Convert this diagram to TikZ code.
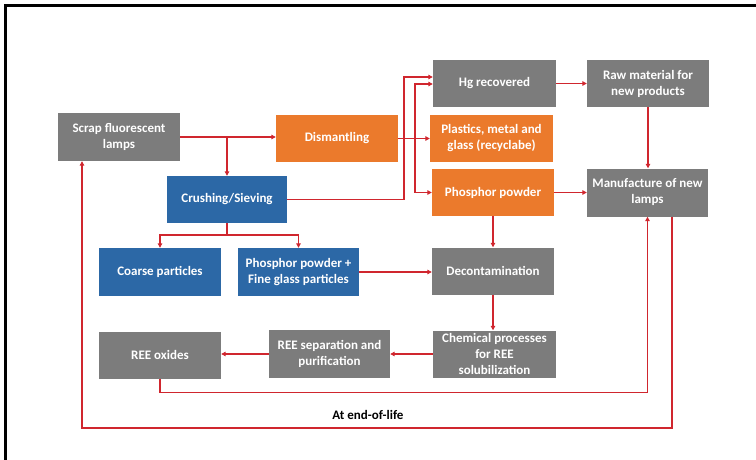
\documentclass[tikz,border=0pt]{standalone}
\usepackage{fontspec}
\setmainfont{Carlito}
\usetikzlibrary{arrows.meta,calc}
\definecolor{bgrey}{HTML}{7C7C7C}
\definecolor{borange}{HTML}{EB7A2C}
\definecolor{bblue}{HTML}{2C68A6}
\definecolor{lred}{HTML}{D0262E}
\tikzset{
  box/.style={rectangle, text=white, align=center, inner sep=1pt,
    font=\bfseries\fontsize{13}{16}\selectfont},
  greybox/.style={box, fill=bgrey},
  orangebox/.style={box, fill=borange},
  bluebox/.style={box, fill=bblue},
  link/.style={draw=lred, line width=1.4pt},
  arr/.style={link, -{Triangle[length=4.5pt,width=4.5pt]}},
}
\begin{document}
\begin{tikzpicture}[x=1pt,y=-1pt]
\useasboundingbox (0,0) rectangle (756,460);
\draw[line width=3pt] (756,6) -- (5,6) -- (5,460);

\node[greybox, minimum width=122pt, minimum height=48pt] (scrap) at (119,137) {Scrap fluorescent\\lamps};
\node[orangebox, minimum width=122pt, minimum height=47pt] (dism) at (337,138.5) {Dismantling};
\node[bluebox, minimum width=120pt, minimum height=47pt] (crush) at (227,199.5) {Crushing/Sieving};
\node[greybox, minimum width=123pt, minimum height=47pt] (hg) at (494.5,83.5) {Hg recovered};
\node[greybox, minimum width=122pt, minimum height=47pt] (raw) at (648,83.5) {Raw material for\\new products};
\node[orangebox, minimum width=123pt, minimum height=47pt] (plast) at (491.5,138.5) {Plastics, metal and\\glass (recyclabe)};
\node[orangebox, minimum width=122pt, minimum height=47pt] (phos) at (493,192.5) {Phosphor powder};
\node[greybox, minimum width=121pt, minimum height=48pt] (manu) at (647.5,192.5) {Manufacture of new\\lamps};
\node[bluebox, minimum width=122pt, minimum height=48pt] (coarse) at (160,272) {Coarse particles};
\node[bluebox, minimum width=121pt, minimum height=48pt] (pfg) at (298.5,272) {Phosphor powder +\\Fine glass particles};
\node[greybox, minimum width=122pt, minimum height=47pt] (decon) at (493,271) {Decontamination};
\node[greybox, minimum width=123pt, minimum height=47pt] (chem) at (494.5,354) {Chemical processes\\for REE\\solubilization};
\node[greybox, minimum width=121pt, minimum height=48pt] (sep) at (329.5,354) {REE separation and\\purification};
\node[greybox, minimum width=122pt, minimum height=47pt] (oxides) at (160,355) {REE oxides};

\node[font=\bfseries\fontsize{13}{15}\selectfont, text=black] (eol) at (368,415) {At end-of-life};

\coordinate (j1) at (404,77);
\coordinate (j2) at (415,84);
\coordinate (j3) at (227,235);
\coordinate (j5) at (672,428);
\coordinate (j6) at (82,428);

\draw[arr] (scrap.east) -- (scrap.east -| dism.west);
\draw[arr] (crush.north |- scrap.east) -- (crush.north);
\draw[arr] (crush.east) -- (crush.east -| j1) -- (j1) -- (j1 -| hg.west);
\draw[arr] (dism.east) -- (dism.east -| plast.west);
\draw[arr] (j2 |- dism.east) -- (j2) -- (j2 -| hg.west);
\draw[arr] (j2 |- dism.east) -- (j2 |- phos.west) -- (phos.west);
\draw[arr] (hg.east) -- (hg.east -| raw.west);
\draw[arr] (raw.south) -- (raw.south |- manu.north);
\draw[arr] (phos.east) -- (phos.east -| manu.west);
\draw[arr] (phos.south) -- (phos.south |- decon.north);
\draw[link] (crush.south) -- (j3);
\draw[arr] (j3) -| (coarse.north);
\draw[arr] (j3) -| (pfg.north);
\draw[arr] (pfg.east) -- (pfg.east -| decon.west);
\draw[arr] (decon.south) -- (decon.south |- chem.north);
\draw[arr] (chem.west) -- (chem.west -| sep.east);
\draw[arr] (sep.west) -- (sep.west -| oxides.east);
\draw[arr] (oxides.south) -- ++(0,14) -| (manu.south);
\draw[arr] (j5 |- manu.south) -- (j5) -- (j6) -- (j6 |- scrap.south);
\end{tikzpicture}
\end{document}
